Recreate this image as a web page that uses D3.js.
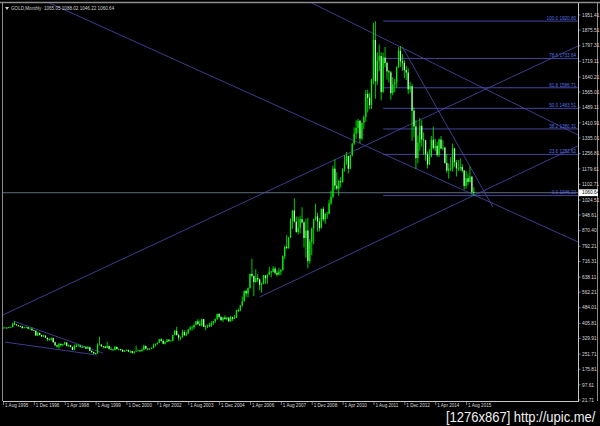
<!DOCTYPE html>
<html lang="en">
<head>
<meta charset="UTF-8">
<title>GOLD,Monthly</title>
<style>
  body { margin: 0; background: #000; }
  svg { display: block; }
  text { font-family: "Liberation Sans", Arial, sans-serif; }
</style>
</head>
<body>
<div id="chart"></div>
<script src="https://d3js.org/d3.v7.min.js"></script>
<script>
// monthly bars, first one is Aug 1995
const startMonth = new Date(1995, 7, 1);

const opens = [
  384,382,384,383,387,
  387,405,400,396,392,391,382,385,387,379,379,371,
  369,345,358,348,340,345,334,326,325,332,311,296,
  290,303,297,301,310,293,296,288,273,293,292,294,
  288,287,287,279,286,268,262,255,254,299,299,291,
  290,283,293,277,274,272,288,276,277,273,264,270,
  273,265,267,258,264,267,270,266,273,293,279,275,
  279,282,296,302,308,326,318,304,312,324,317,319,
  347,368,347,334,336,361,346,354,375,384,386,398,
  416,402,396,427,388,393,395,391,407,415,428,453,
  438,422,435,428,435,416,437,429,433,473,470,495,
  517,568,556,582,654,643,613,633,626,599,604,646,
  632,650,665,662,680,659,650,665,673,743,789,783,
  834,923,971,916,864,885,928,912,834,871,718,815,
  882,928,942,916,883,980,927,954,955,1008,1040,1181,
  1096,1081,1118,1113,1180,1213,1244,1181,1248,1307,1357,1385,
  1421,1332,1411,1439,1556,1536,1500,1628,1826,1620,1722,1746,
  1566,1738,1711,1669,1664,1560,1604,1614,1692,1772,1719,1712,
  1675,1663,1579,1595,1472,1393,1234,1312,1396,1327,1323,1253,
  1202,1244,1326,1284,1296,1250,1327,1282,1287,1210,1171,1182,
  1184,1283,1213,1183,1183,1190,1172,1095,1133,1115,1142,1065.05
];
const highs = [
  388,387,386,389,390,
  409,416,403,398,395,393,388,390,388,384,385,373,
  370,364,359,348,349,346,334,330,335,335,314,299,
  308,305,303,314,311,300,297,289,300,302,302,298,
  293,292,291,292,289,270,264,259,306,339,302,293,
  293,314,294,288,278,293,290,280,278,275,271,275,
  274,270,268,266,294,272,272,281,299,294,281,281,
  286,305,305,310,328,331,326,316,327,326,323,349,
  373,389,354,340,374,371,363,377,392,395,401,417,
  427,420,430,428,396,400,409,417,418,430,455,457,
  442,437,446,438,436,443,439,448,474,480,497,541,
  571,575,585,655,730,646,677,653,631,610,649,648,
  652,690,669,692,690,671,684,678,746,795,848,840,
  932,973,1033,942,938,945,988,917,930,935,828,886,
  930,1006,961,933,981,990,961,965,1025,1071,1196,1227,
  1163,1127,1139,1183,1250,1265,1246,1252,1309,1388,1424,1431,
  1425,1411,1448,1575,1577,1561,1632,1912,1921,1764,1803,1764,
  1763,1791,1718,1676,1671,1640,1631,1693,1790,1796,1755,1726,
  1695,1684,1617,1605,1488,1424,1348,1434,1424,1362,1325,1267,
  1280,1345,1392,1331,1315,1332,1345,1323,1290,1255,1207,1239,
  1307,1284,1224,1225,1232,1205,1175,1170,1157,1191,1142,1088.02
];
const lows = [
  380,381,380,381,384,
  386,398,394,389,388,380,381,384,377,377,369,367,
  343,342,345,337,338,334,316,319,320,309,293,283,
  278,289,291,298,290,287,286,271,272,287,291,285,
  283,285,277,278,268,256,253,252,254,296,288,280,
  280,282,275,271,270,271,275,271,268,263,262,268,
  262,255,255,254,264,265,263,265,270,276,271,271,
  277,281,289,299,307,315,301,300,311,313,315,316,
  346,345,319,322,335,344,341,353,369,370,377,396,
  399,392,391,387,371,382,387,390,398,408,423,430,
  418,412,424,421,414,414,418,428,432,463,467,489,
  516,538,537,580,637,542,609,612,573,560,602,603,
  604,648,636,662,650,641,646,648,670,727,779,780,
  834,880,912,860,851,857,907,786,735,681,705,747,
  802,921,866,866,882,917,905,930,952,1000,1033,1075,
  1072,1045,1087,1113,1166,1200,1157,1178,1243,1300,1331,1360,
  1309,1324,1380,1417,1462,1478,1480,1604,1532,1601,1670,1523,
  1561,1690,1627,1612,1527,1549,1565,1587,1686,1692,1672,1635,
  1626,1555,1562,1321,1338,1180,1207,1271,1291,1251,1221,1182,
  1200,1238,1277,1268,1240,1240,1280,1273,1205,1161,1131,1170,
  1167,1191,1142,1169,1170,1162,1077,1081,1098,1112,1052,1046.22
];
const closes = [
  382,384,383,387,387,
  405,400,396,392,391,382,385,387,379,379,371,369,
  345,358,348,340,345,334,326,325,332,311,296,290,
  303,297,301,310,293,296,288,273,293,292,294,288,
  287,287,279,286,268,262,255,254,299,299,291,290,
  283,293,277,274,272,288,276,277,273,264,270,273,
  265,267,258,264,267,270,266,273,293,279,275,279,
  282,296,302,308,326,318,304,312,324,317,319,347,
  368,347,334,336,361,346,354,375,384,386,398,416,
  402,396,427,388,393,395,391,407,415,428,453,438,
  422,435,428,435,416,437,429,433,473,470,495,517,
  568,556,582,654,643,613,633,626,599,604,646,632,
  650,665,662,680,659,650,665,673,743,789,783,834,
  923,971,916,864,885,928,912,834,871,718,815,882,
  928,942,916,883,980,927,954,955,1008,1040,1181,1096,
  1081,1118,1113,1180,1213,1244,1181,1248,1307,1357,1385,1421,
  1332,1411,1439,1556,1536,1500,1628,1826,1620,1722,1746,1566,
  1738,1711,1669,1664,1560,1604,1614,1692,1772,1719,1712,1675,
  1663,1579,1595,1472,1393,1234,1312,1396,1327,1323,1253,1202,
  1244,1326,1284,1296,1250,1327,1282,1287,1210,1171,1182,1184,
  1283,1213,1183,1183,1190,1172,1095,1133,1115,1142,1065,1060.64
];

const priceTicks = [1951.41, 1875.51, 1797.31, 1719.11, 1640.21, 1565.01, 1489.11,
  1410.91, 1335.01, 1256.81, 1179.61, 1102.71, 1024.51, 948.61, 870.40, 792.21,
  716.31, 638.11, 562.21, 484.01, 405.81, 329.91, 251.71, 175.81, 97.61, 21.71];
const timeTickStep = 16; // months between date labels
const lastPrice = 1060.64;
const title = "GOLD,Monthly  1065.05 1088.02 1046.22 1060.64";

// fibonacci retracement
const fibLevels = [0, 23.6, 38.2, 50, 61.8, 78.6, 100];
const fibHigh = 1920.80, fibLow = 1046.22;
const fibStart = 197; // bar index where the levels begin

// trend lines: [bar index 1, price 1, bar index 2, price 2]
const trendLines = [
  [0, 448, 298, 1796],
  [133, 538, 298, 1295],
  [160, 2012, 298, 1350],
  [24, 2012, 298, 814],
  [207, 1791, 253.9, 989],
  [5.2, 418, 51.8, 257],
  [1, 312, 48.7, 247]
];

const W = 600, H = 426;
const plotL = 3, plotR = 578, plotT = 3, plotB = 401;
const lineColor = "#4b4bb0";

const svg = d3.select("#chart").append("svg")
  .attr("width", W).attr("height", H)
  .style("background", "#000");

const x = d3.scaleLinear().domain([0, 298]).range([plotL, plotR]);
const y = d3.scaleLinear().domain([21.71, 1951.41]).range([400, 15]);

svg.append("defs").append("clipPath").attr("id", "plot")
  .append("rect").attr("x", plotL).attr("y", plotT)
  .attr("width", plotR - plotL).attr("height", plotB - plotT);

// window frame
svg.append("line").attr("x1", 0).attr("x2", W).attr("y1", 2.5).attr("y2", 2.5)
  .attr("stroke", "#8c8c8c").attr("stroke-width", 1.5);
svg.append("line").attr("x1", 2.5).attr("x2", 2.5).attr("y1", 2).attr("y2", plotB)
  .attr("stroke", "#8c8c8c").attr("stroke-width", 1);
svg.append("line").attr("x1", 597.5).attr("x2", 597.5).attr("y1", 2).attr("y2", plotB)
  .attr("stroke", "#8c8c8c").attr("stroke-width", 1);

const plot = svg.append("g").attr("clip-path", "url(#plot)");

// current price line
plot.append("line")
  .attr("x1", plotL).attr("x2", plotR)
  .attr("y1", y(lastPrice)).attr("y2", y(lastPrice))
  .attr("stroke", "#778899").attr("stroke-width", 0.8);

// fibonacci levels
fibLevels.forEach(lv => {
  const p = fibLow + (fibHigh - fibLow) * lv / 100;
  plot.append("line")
    .attr("x1", x(fibStart)).attr("x2", plotR)
    .attr("y1", y(p)).attr("y2", y(p))
    .attr("stroke", lineColor).attr("stroke-width", 0.9);
  plot.append("text")
    .attr("x", plotR - 2).attr("y", y(p) - 1.2)
    .attr("text-anchor", "end")
    .attr("font-size", 4.6)
    .attr("fill", "#5a6ee0")
    .text(lv.toFixed(1) + " " + p.toFixed(2));
});

// trend lines
plot.selectAll(".trend").data(trendLines).enter().append("line")
  .attr("class", "trend")
  .attr("x1", d => x(d[0])).attr("y1", d => y(d[1]))
  .attr("x2", d => x(d[2])).attr("y2", d => y(d[3]))
  .attr("stroke", lineColor).attr("stroke-width", 0.8);

// candles
const bars = closes.map((c, i) => ({ i, o: opens[i], h: highs[i], l: lows[i], c }));
const bw = 1.3;
const cg = plot.append("g");
cg.selectAll(".wick").data(bars).enter().append("line")
  .attr("x1", d => x(d.i)).attr("x2", d => x(d.i))
  .attr("y1", d => y(d.h)).attr("y2", d => y(d.l))
  .attr("stroke", "#00ff00").attr("stroke-width", 0.8);
cg.selectAll(".body").data(bars).enter().append("rect")
  .attr("x", d => x(d.i) - bw / 2)
  .attr("y", d => y(Math.max(d.o, d.c)))
  .attr("width", bw)
  .attr("height", d => Math.max(0.6, Math.abs(y(d.o) - y(d.c))))
  .attr("fill", d => d.c >= d.o ? "#00ee00" : "#aaffaa");

// price axis
svg.append("line").attr("x1", plotR + 0.5).attr("x2", plotR + 0.5)
  .attr("y1", plotT).attr("y2", plotB).attr("stroke", "#c8c8c8").attr("stroke-width", 1);
priceTicks.forEach(v => {
  svg.append("line").attr("x1", plotR).attr("x2", plotR + 2.5)
    .attr("y1", y(v)).attr("y2", y(v)).attr("stroke", "#c8c8c8").attr("stroke-width", 0.6);
  svg.append("text").attr("x", plotR + 4).attr("y", y(v) + 1.7)
    .attr("font-size", 4.8).attr("fill", "#d8d8d8").text(v.toFixed(2));
});
svg.append("rect").attr("x", plotR + 1).attr("y", y(lastPrice) - 3.4)
  .attr("width", 19).attr("height", 6.8).attr("fill", "#ffffff");
svg.append("text").attr("x", plotR + 4).attr("y", y(lastPrice) + 1.7)
  .attr("font-size", 4.8).attr("fill", "#000").text(lastPrice.toFixed(2));

// time axis
svg.append("line").attr("x1", plotL).attr("x2", plotR + 1)
  .attr("y1", plotB + 0.5).attr("y2", plotB + 0.5)
  .attr("stroke", "#c8c8c8").attr("stroke-width", 1);
const fmt = d3.timeFormat("%-d %b %Y");
d3.range(0, 245, timeTickStep).forEach(i => {
  svg.append("line").attr("x1", x(i) + 0.5).attr("x2", x(i) + 0.5)
    .attr("y1", plotB).attr("y2", plotB + 4).attr("stroke", "#c8c8c8").attr("stroke-width", 0.6);
  svg.append("text").attr("x", x(i) + 2).attr("y", plotB + 6)
    .attr("font-size", 4.6).attr("fill", "#d8d8d8")
    .text(fmt(d3.timeMonth.offset(startMonth, i)));
});

// title
svg.append("path").attr("d", "M5,7 L9,7 L7,10 Z").attr("fill", "#d0d0d0");
svg.append("text").attr("x", 11).attr("y", 10)
  .attr("font-size", 4.6).attr("fill", "#d0d0d0")
  .attr("xml:space", "preserve").style("white-space", "pre").text(title);

// watermark (small font, stretched)
svg.append("text")
  .attr("transform", "translate(446,422) scale(1.13,1.2)")
  .attr("font-size", 11.5).attr("fill", "#f0f0f0")
  .text("[1276x867] http://upic.me/");
</script>
</body>
</html>
